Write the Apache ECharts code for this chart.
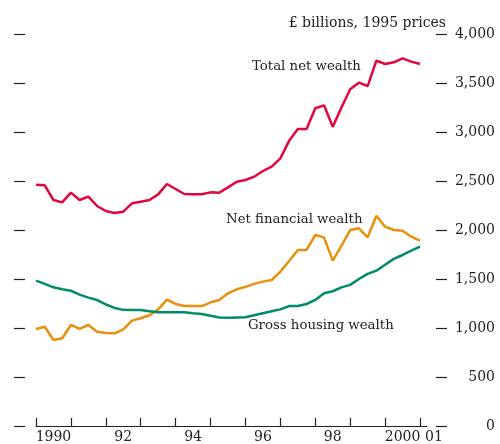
<!DOCTYPE html>
<html><head><meta charset="utf-8">
<script src="https://cdn.jsdelivr.net/npm/echarts@6/dist/echarts.min.js"></script>
<style>html,body{margin:0;padding:0;background:#fff}#c{width:500px;height:444px}</style>
</head><body><div id="c"></div>
<script>
// quarterly, 1990 Q1 .. 2001 Q1
const startYear = 1990;
const totalNetWealth = [2462,2456,2306,2282,2381,2306,2340,2245,2194,2173,2187,2272,2289,2306,2364,2469,2418,2367,2364,2364,2384,2381,2435,2493,2510,2544,2602,2646,2731,2910,3031,3031,3242,3272,3054,3250,3436,3503,3469,3728,3694,3711,3752,3718,3694];
const netFinancialWealth = [990,1013,878,895,1031,990,1031,962,950,946,985,1075,1099,1130,1190,1290,1245,1224,1224,1224,1262,1286,1354,1395,1420,1450,1473,1490,1575,1684,1796,1796,1949,1925,1687,1840,2000,2017,1925,2146,2034,2000,1993,1932,1891];
const grossHousingWealth = [1483,1450,1415,1395,1380,1340,1310,1285,1240,1205,1185,1184,1184,1170,1160,1160,1160,1160,1150,1143,1125,1107,1105,1108,1109,1130,1150,1170,1190,1224,1225,1245,1286,1354,1375,1415,1440,1500,1553,1585,1645,1705,1745,1790,1830];
const xTickYears = [1990,1991,1992,1993,1994,1995,1996,1997,1998,1999,2000,2001];
const xLabelPositions = [1990.5,1992.5,1994.5,1996.5,1998.5,2000.5,2001];
const xLabelTexts = ['1990','92','94','96','98','2000','01'];
const yTicks = [0,500,1000,1500,2000,2500,3000,3500,4000];

const toPairs = arr => arr.map((v,i)=>[startYear + i/4, v]);
const FONT = 'DejaVu Serif';
const FS = 14;
const FSA = 13.3;
const TXT = '#222';

const chart = echarts.init(document.getElementById('c'));
chart.setOption({
  animation:false,
  textStyle:{fontFamily:FONT},
  title:{text:'£ billions, 1995 prices', right:49, top:11,
    textStyle:{fontFamily:FONT, fontSize:FS, fontWeight:'normal', color:TXT}},
  grid:{left:36, right:73, top:34, bottom:18, containLabel:false},
  xAxis:{type:'value', min:1990, max:2001.2,
    axisLine:{show:true, lineStyle:{color:'#222', width:1.2}},
    axisTick:{show:true, inside:true, length:8, customValues:xTickYears, lineStyle:{color:'#222', width:1.2}},
    axisLabel:{show:true, customValues:xLabelPositions, margin:4, fontFamily:FONT, fontSize:FS, color:TXT,
      formatter:function(v){const i=xLabelPositions.indexOf(v); if(i<0) return ''; return i===xLabelTexts.length-1 ? '{r|'+xLabelTexts[i]+'}' : xLabelTexts[i];},
      rich:{r:{fontFamily:FONT, fontSize:FS, color:TXT, padding:[0,0,0,28]}}},
    splitLine:{show:false}},
  yAxis:[
    {type:'value', min:0, max:4000, interval:500, position:'left', offset:11,
      axisLine:{show:false}, axisTick:{show:true, length:11, lineStyle:{color:'#222', width:1.2}},
      axisLabel:{show:false}, splitLine:{show:false}},
    {type:'value', min:0, max:4000, interval:500, position:'right', offset:9,
      axisLine:{show:false}, axisTick:{show:true, length:11, lineStyle:{color:'#222', width:1.2}},
      axisLabel:{show:true, align:'right', margin:59, fontFamily:FONT, fontSize:FS, color:TXT,
        formatter:v=>v.toLocaleString('en-US')},
      splitLine:{show:false}}
  ],
  series:[
    {name:'Total net wealth', type:'line', data:toPairs(totalNetWealth), showSymbol:false,
      lineStyle:{color:'#e3063c', width:2.5}, itemStyle:{color:'#e3063c'}},
    {name:'Net financial wealth', type:'line', data:toPairs(netFinancialWealth), showSymbol:false,
      lineStyle:{color:'#e8900c', width:2.5}, itemStyle:{color:'#e8900c'}},
    {name:'Gross housing wealth', type:'line', data:toPairs(grossHousingWealth), showSymbol:false,
      lineStyle:{color:'#008b69', width:2.5}, itemStyle:{color:'#008b69'}}
  ],
  graphic:[
    {type:'text', left:252, top:60, style:{text:'Total net wealth', font:FSA+'px "'+FONT+'"', fill:TXT}},
    {type:'text', left:226, top:213, style:{text:'Net financial wealth', font:FSA+'px "'+FONT+'"', fill:TXT}},
    {type:'text', left:248, top:319, style:{text:'Gross housing wealth', font:FSA+'px "'+FONT+'"', fill:TXT}}
  ]
});
</script></body></html>
